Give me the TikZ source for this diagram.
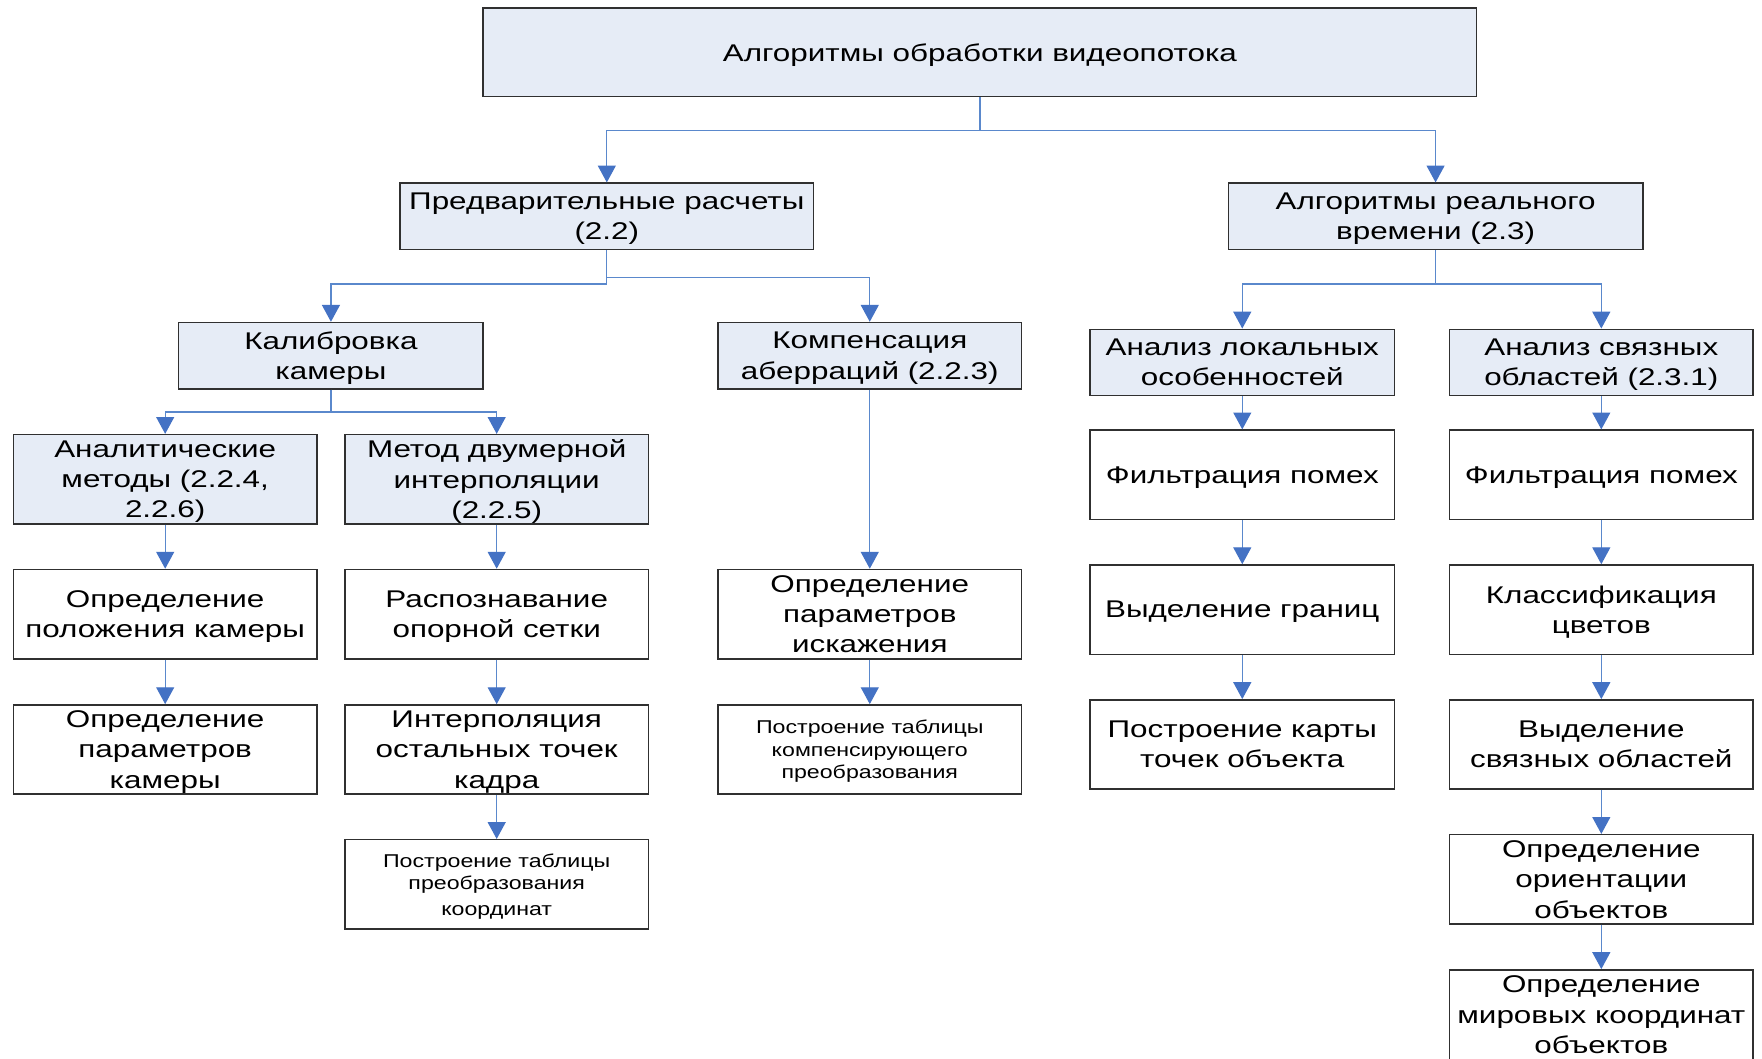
\documentclass[tikz,border=0pt]{standalone}
\usepackage{fontspec}
\setmainfont{Liberation Sans}[FakeStretch=1.3]
\newfontfamily\smallfam{Liberation Sans}[FakeStretch=1.25]
\usetikzlibrary{arrows.meta}
\definecolor{boxfill}{HTML}{E6ECF6}
\definecolor{boxline}{HTML}{303030}
\definecolor{lineblue}{HTML}{5A88CC}
\definecolor{arrowblue}{HTML}{4472C4}
\tikzset{
  box/.style={draw=boxline, line width=1.3pt, rectangle, align=center, inner sep=0pt,
    text depth=0pt,
    minimum width=270pt, minimum height=79.5pt, font=\fontsize{21.5}{27}\selectfont},
  bluebox/.style={box, fill=boxfill},
  shortbox/.style={minimum height=59pt},
  smalltext/.style={font=\smallfam\fontsize{16.5}{20}\selectfont},
  conn/.style={draw=lineblue, line width=1.1pt, -{Triangle[width=16pt,length=15pt,color=arrowblue,fill=arrowblue]}}
}
\begin{document}
\begin{tikzpicture}[x=1pt,y=-1pt]
\useasboundingbox (0,0) rectangle (1568,942);
\fill[white] (0,0) rectangle (1568,942);
% level 0
\node[bluebox, minimum width=884pt, minimum height=79pt] (top) at (872,46.5) {Алгоритмы обработки видеопотока};
% level 1
\node[bluebox, shortbox, minimum width=368pt] (pre) at (540,192.5) {Предварительные расчеты\\(2.2)};
\node[bluebox, shortbox, minimum width=369pt] (rt) at (1277.5,192.5) {Алгоритмы реального\\времени (2.3)};
% level 2
\node[bluebox, shortbox, minimum width=271pt] (kal) at (294.5,316.5) {Калибровка\\камеры};
\node[bluebox, shortbox] (komp) at (774,316.5) {Компенсация\\аберраций (2.2.3)};
\node[bluebox, shortbox, minimum width=271pt] (alok) at (1105.5,322.5) {Анализ локальных\\особенностей};
\node[bluebox, shortbox] (asv) at (1425,322.5) {Анализ связных\\областей (2.3.1)};
% left columns
\node[bluebox] (an) at (147,426.5) {Аналитические\\методы (2.2.4,\\2.2.6)};
\node[bluebox] (md) at (442,426.5) {Метод двумерной\\интерполяции\\(2.2.5)};
\node[box] (op) at (147,546.5) {Определение\\положения камеры};
\node[box] (rs) at (442,546.5) {Распознавание\\опорной сетки};
\node[box] (opk) at (147,667) {Определение\\параметров\\камеры};
\node[box] (int) at (442,667) {Интерполяция\\остальных точек\\кадра};
\node[box, smalltext] (ptk) at (442,787) {Построение таблицы\\преобразования\\[3pt]координат};
% middle column
\node[box] (opi) at (774,546.5) {Определение\\параметров\\искажения};
\node[box, smalltext] (ptc) at (774,667) {Построение таблицы\\компенсирующего\\преобразования};
% right columns
\node[box, minimum width=271pt] (f1) at (1105.5,422.5) {Фильтрация помех};
\node[box, minimum width=271pt] (vg) at (1105.5,542.5) {Выделение границ};
\node[box, minimum width=271pt] (pk) at (1105.5,662.5) {Построение карты\\точек объекта};
\node[box] (f2) at (1425,422.5) {Фильтрация помех};
\node[box] (kl) at (1425,542.5) {Классификация\\цветов};
\node[box] (vs) at (1425,662.5) {Выделение\\связных областей};
\node[box] (oo) at (1425,782.5) {Определение\\ориентации\\объектов};
\node[box, minimum height=80pt] (om) at (1425,903) {Определение\\мировых координат\\объектов};
% connectors
\draw[conn] (top.south) -- ++(0,29.5) -| (pre.north);
\draw[conn] (top.south) -- ++(0,29.5) -| (rt.north);
\draw[conn] (pre.south) -- ++(0,30) -| (kal.north);
\draw[conn] (pre.south) -- ++(0,24) -| (komp.north);
\draw[conn] (rt.south) -- ++(0,30) -| (alok.north);
\draw[conn] (rt.south) -- ++(0,30) -| (asv.north);
\draw[conn] (kal.south) -- ++(0,20) -| (an.north);
\draw[conn] (kal.south) -- ++(0,20) -| (md.north);
\draw[conn] (an) -- (op);
\draw[conn] (op) -- (opk);
\draw[conn] (md) -- (rs);
\draw[conn] (rs) -- (int);
\draw[conn] (int) -- (ptk);
\draw[conn] (komp) -- (opi);
\draw[conn] (opi) -- (ptc);
\draw[conn] (alok) -- (f1);
\draw[conn] (f1) -- (vg);
\draw[conn] (vg) -- (pk);
\draw[conn] (asv) -- (f2);
\draw[conn] (f2) -- (kl);
\draw[conn] (kl) -- (vs);
\draw[conn] (vs) -- (oo);
\draw[conn] (oo) -- (om);
\end{tikzpicture}
\end{document}
